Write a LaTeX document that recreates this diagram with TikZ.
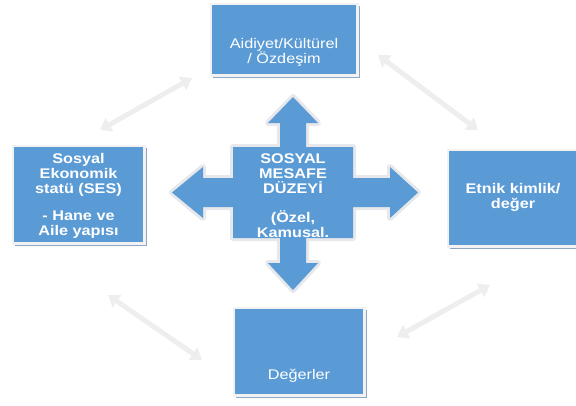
\documentclass[tikz,border=0pt]{standalone}
\usepackage{fontspec}
\setmainfont{Liberation Sans}[FakeStretch=1.16]
\usetikzlibrary{arrows.meta,shadows}
\definecolor{boxblue}{HTML}{5B9BD5}
\definecolor{boxedge}{HTML}{F2F2F2}
\definecolor{boxshadow}{HTML}{8FA7C6}
\definecolor{bgarrow}{HTML}{EEEEEE}
\definecolor{crossedge}{HTML}{E6E8EB}
\definecolor{crossshade}{HTML}{C9D3DF}
\begin{document}
\begin{tikzpicture}[x=1pt,y=-1pt,
  panel/.style={draw=boxedge, line width=2.5pt, fill=boxblue, inner sep=0pt,
    drop shadow={shadow xshift=2.5pt, shadow yshift=-2.5pt, fill=boxshadow, opacity=1}},
  paneltext/.style={text=white, align=center, inner sep=0pt, font=\fontsize{14}{15}\selectfont},
  boldtext/.style={paneltext, font=\fontsize{14}{15}\selectfont\bfseries},
  linkarrow/.style={draw=bgarrow, line width=5pt,
    {Triangle[width=15pt,length=11pt]}-{Triangle[width=15pt,length=11pt]}},
  crosspath/.style={insert path={(293,97) -- (318,123) -- (306,123) -- (306,147) -- (353,147) -- (353,178)
    -- (390,178) -- (390,167) -- (418,192.5) -- (390,218) -- (390,207) -- (353,207) -- (353,238)
    -- (306,238) -- (306,263) -- (318,263) -- (293,290) -- (268,263) -- (280,263) -- (280,238)
    -- (233,238) -- (233,207) -- (203,207) -- (203,218) -- (172,192.5) -- (203,167) -- (203,178)
    -- (233,178) -- (233,147) -- (280,147) -- (280,123) -- (268,123) -- cycle}}
]
\useasboundingbox (0,0) rectangle (576,405);
\clip (0,0) rectangle (576,405);

% background double arrows
\coordinate (tla) at (100,130); \coordinate (tlb) at (192,78);
\coordinate (tra) at (378,55);  \coordinate (trb) at (478,130);
\coordinate (bla) at (108,295); \coordinate (blb) at (202,360);
\coordinate (bra) at (397,337); \coordinate (brb) at (490,285);
\draw[linkarrow] (tla) -- (tlb);
\draw[linkarrow] (tra) -- (trb);
\draw[linkarrow] (bla) -- (blb);
\draw[linkarrow] (bra) -- (brb);

% boxes
\node[panel, minimum width=146.5pt, minimum height=71.5pt] (top) at (284,39.5) {};
\node[panel, minimum width=131.5pt, minimum height=97.5pt] (left) at (78.5,194.5) {};
\node[panel, minimum width=130.5pt, minimum height=96.5pt] (right) at (513,198) {};
\node[panel, minimum width=130.5pt, minimum height=87.5pt] (bottom) at (299,351.5) {};

\node[paneltext] (topt) at (284,52.5) {Aidiyet/Kültürel\\/ Özdeşim};
\node[paneltext] (bottomt) at (299,376) {Değerler};
\node[boldtext] (leftt) at (78.5,196) {Sosyal\\Ekonomik\\statü (SES)\\[12pt]- Hane ve\\Aile yapısı};
\node[boldtext] (rightt) at (513,197) {Etnik kimlik/\\değer};

% central cross
\path[crosspath, fill=crossshade, xshift=2pt, yshift=-2pt];
\path[crosspath, draw=crossedge, line width=6pt, line join=round];
\path[crosspath, fill=boxblue];
\node[boldtext] (ct) at (293,195.5) {SOSYAL\\MESAFE\\DÜZEYİ\\[14pt](Özel,\\Kamusal.};
\end{tikzpicture}
\end{document}
